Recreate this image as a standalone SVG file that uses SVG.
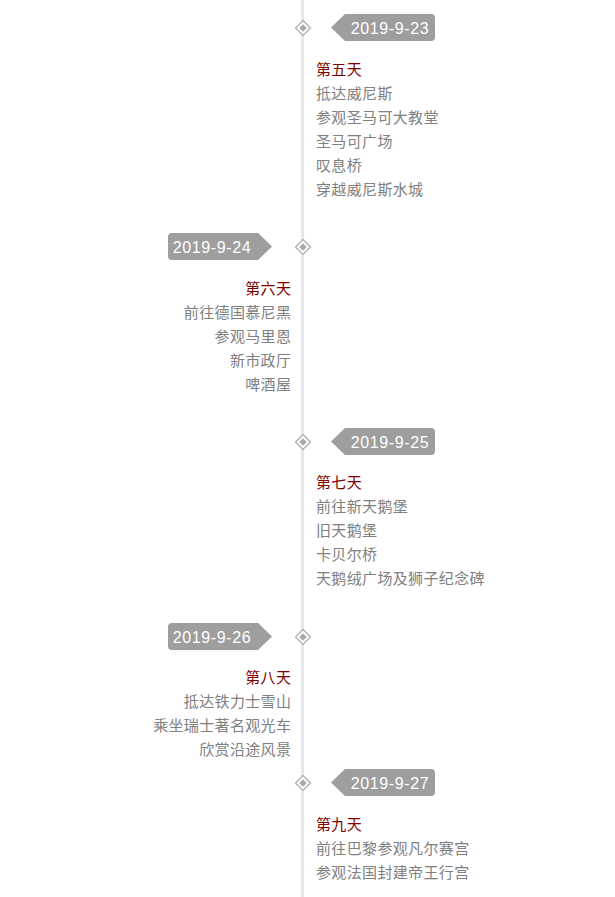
<svg xmlns="http://www.w3.org/2000/svg" width="615" height="897" viewBox="0 0 615 897">
<style>
.date{font-family:"Liberation Sans",Arial,sans-serif;font-size:16px;fill:#fff;letter-spacing:0.6px;text-anchor:middle}
.tag{fill:#9e9e9e}
.t{font-family:"Noto Sans CJK SC","Noto Sans",sans-serif;font-size:15px;fill:#800000;letter-spacing:0.35px}
.i{font-family:"Noto Sans CJK SC","Noto Sans",sans-serif;font-size:15px;fill:#808080;letter-spacing:0.35px}
.r{text-anchor:start}
.l{text-anchor:end}
.dOut{fill:#fff;stroke:#aaa;stroke-width:1.2}
.dIn{fill:#aaa}
</style>
<defs>
<g id="dia">
<path class="dOut" d="M0,-7.5 L7.5,0 L0,7.5 L-7.5,0 Z"/>
<path class="dIn" d="M0,-3.8 L3.8,0 L0,3.8 L-3.8,0 Z"/>
</g>
</defs>
<rect width="615" height="897" fill="#fff"/>
<g id="connectors">
<rect x="301" y="0" width="3" height="897" fill="#e6e6f0"/>
</g>

<g id="day5">
<use href="#dia" x="303" y="28"/>
<path class="tag" d="M331,27.5 L345,14 H431 a4,4 0 0 1 4,4 V37 a4,4 0 0 1 -4,4 H345 Z"/>
<text class="date" x="390" y="33.5">2019-9-23</text>
<text class="t r" x="316" y="75">第五天</text>
<text class="i r" x="316" y="99">抵达威尼斯</text>
<text class="i r" x="316" y="123">参观圣马可大教堂</text>
<text class="i r" x="316" y="147">圣马可广场</text>
<text class="i r" x="316" y="171">叹息桥</text>
<text class="i r" x="316" y="195">穿越威尼斯水城</text>
</g>

<g id="day6">
<use href="#dia" x="303" y="247"/>
<path class="tag" d="M272,246.5 L258,233 H172 a4,4 0 0 0 -4,4 V256 a4,4 0 0 0 4,4 H258 Z"/>
<text class="date" x="212" y="252.5">2019-9-24</text>
<text class="t l" x="291.3" y="294">第六天</text>
<text class="i l" x="291.3" y="318">前往德国慕尼黑</text>
<text class="i l" x="291.3" y="342">参观马里恩</text>
<text class="i l" x="291.3" y="366">新市政厅</text>
<text class="i l" x="291.3" y="390">啤酒屋</text>
</g>

<g id="day7">
<use href="#dia" x="303" y="442"/>
<path class="tag" d="M331,441.5 L345,428 H431 a4,4 0 0 1 4,4 V451 a4,4 0 0 1 -4,4 H345 Z"/>
<text class="date" x="390" y="447.5">2019-9-25</text>
<text class="t r" x="316" y="488">第七天</text>
<text class="i r" x="316" y="512">前往新天鹅堡</text>
<text class="i r" x="316" y="536">旧天鹅堡</text>
<text class="i r" x="316" y="560">卡贝尔桥</text>
<text class="i r" x="316" y="584">天鹅绒广场及狮子纪念碑</text>
</g>

<g id="day8">
<use href="#dia" x="303" y="637"/>
<path class="tag" d="M272,636.5 L258,623 H172 a4,4 0 0 0 -4,4 V646 a4,4 0 0 0 4,4 H258 Z"/>
<text class="date" x="212" y="642.5">2019-9-26</text>
<text class="t l" x="291.3" y="683">第八天</text>
<text class="i l" x="291.3" y="707">抵达铁力士雪山</text>
<text class="i l" x="291.3" y="731">乘坐瑞士著名观光车</text>
<text class="i l" x="291.3" y="755">欣赏沿途风景</text>
</g>

<g id="day9">
<use href="#dia" x="303" y="783"/>
<path class="tag" d="M331,782.5 L345,769 H431 a4,4 0 0 1 4,4 V792 a4,4 0 0 1 -4,4 H345 Z"/>
<text class="date" x="390" y="788.5">2019-9-27</text>
<text class="t r" x="316" y="830">第九天</text>
<text class="i r" x="316" y="854">前往巴黎参观凡尔赛宫</text>
<text class="i r" x="316" y="878">参观法国封建帝王行宫</text>
</g>
</svg>
